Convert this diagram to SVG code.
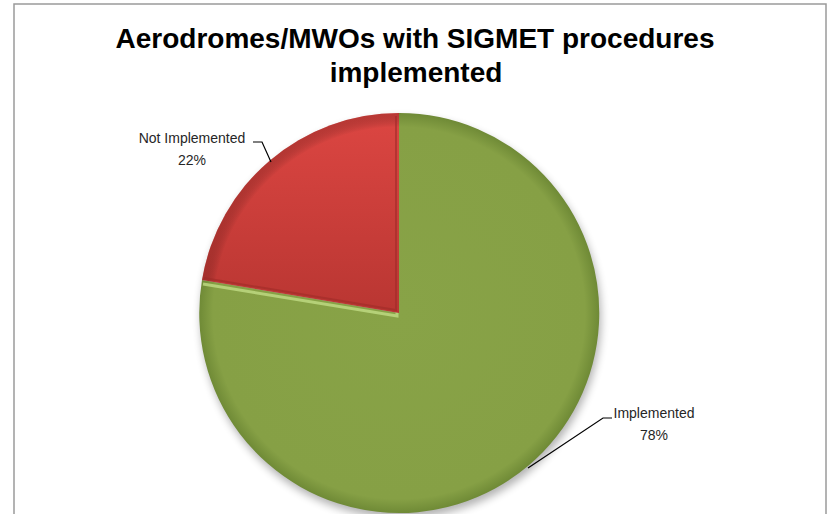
<svg xmlns="http://www.w3.org/2000/svg" width="829" height="514" viewBox="0 0 829 514">
<style>
.title{font-family:"Liberation Sans",Arial,sans-serif;font-weight:bold;font-size:28px;fill:#000;text-anchor:middle}
.lbl{font-family:"Liberation Sans",Arial,sans-serif;font-size:14px;fill:#262626;text-anchor:middle}
.lead{fill:none;stroke:#000;stroke-width:1.2}
</style>
<defs>
<linearGradient id="gRed" x1="0" y1="0" x2="0" y2="1">
<stop offset="0" stop-color="#dc4642"/>
<stop offset="1" stop-color="#b93632"/>
</linearGradient>
<radialGradient id="gGreen" cx="399" cy="313" r="200" gradientUnits="userSpaceOnUse">
<stop offset="0" stop-color="#88a347"/>
<stop offset="0.93" stop-color="#86a045"/>
<stop offset="1" stop-color="#6f8a36"/>
</radialGradient>
<radialGradient id="gRedEdge" cx="399" cy="313" r="200" gradientUnits="userSpaceOnUse">
<stop offset="0.93" stop-color="#000" stop-opacity="0"/>
<stop offset="1" stop-color="#7a1f1c" stop-opacity="0.35"/>
</radialGradient>
<filter id="shadow" x="-20%" y="-20%" width="140%" height="140%">
<feGaussianBlur stdDeviation="4"/>
</filter>
</defs>
<rect x="14" y="4" width="812" height="520" fill="#fff" stroke="#9a9a9a" stroke-width="1.5"/>
<g id="title">
<text class="title" x="415" y="48">Aerodromes/MWOs with SIGMET procedures</text>
<text class="title" x="416" y="82">implemented</text>
</g>
<ellipse cx="401" cy="318" rx="200" ry="200" fill="#000" opacity="0.3" filter="url(#shadow)"/>
<g id="slice-implemented">
<path d="M399,313 L202,280 A200,200 0 1 0 399,113 Z" fill="url(#gGreen)"/>
<path d="M203,284 L397,316 L397,118" fill="none" stroke="#c0dc85" stroke-width="3" opacity="0.8"/>
</g>
<g id="slice-not-implemented">
<path d="M399,313 L399,113 A200,200 0 0 0 202,280 Z" fill="url(#gRed)"/>
<path d="M399,313 L399,113 A200,200 0 0 0 202,280 Z" fill="url(#gRedEdge)"/>
<path d="M204,278 L396,310 L396,116" fill="none" stroke="#9e2b28" stroke-width="2" opacity="0.6"/>
</g>
<g id="connectors">
<polyline class="lead" points="253,142 262,142 271,162"/>
<polyline class="lead" points="612,418 603,418 528,468"/>
</g>
<g id="label-not-implemented">
<text class="lbl" x="192" y="143">Not Implemented</text>
<text class="lbl" x="192" y="165">22%</text>
</g>
<g id="label-implemented">
<text class="lbl" x="654" y="418">Implemented</text>
<text class="lbl" x="654" y="440">78%</text>
</g>
</svg>
